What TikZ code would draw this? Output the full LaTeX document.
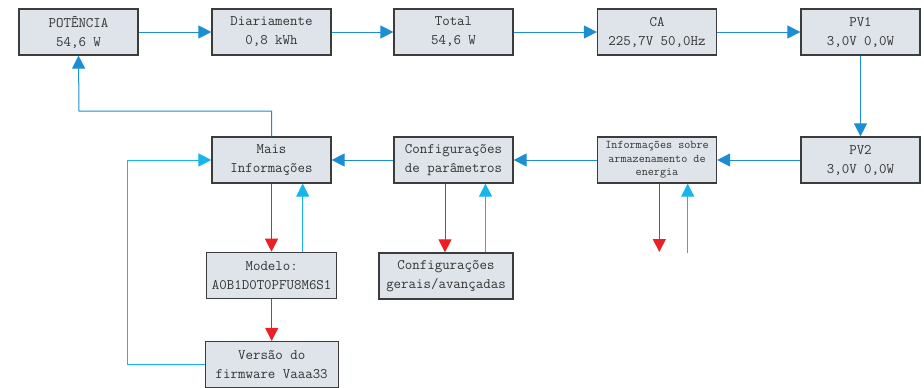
\documentclass[tikz,border=0pt]{standalone}
\usetikzlibrary{arrows.meta}

\definecolor{boxfill}{RGB}{222,228,234}
\definecolor{boxline}{RGB}{60,60,60}
\definecolor{flowblue}{RGB}{28,142,212}
\definecolor{upcyan}{RGB}{20,182,236}
\definecolor{downred}{RGB}{236,30,38}

\tikzset{
  box/.style={draw=boxline, line width=1.2pt, fill=boxfill, text=black!80,
    minimum width=119pt, minimum height=46pt, inner sep=1pt, align=center,
    font=\ttfamily\fontsize{14.5}{19}\selectfont},
  flow/.style={draw=flowblue, line width=1pt, -{Triangle[length=13pt,width=13pt]}},
  upflow/.style={draw=upcyan, line width=1pt, -{Triangle[length=13pt,width=13pt]}},
  downflow/.style={draw=downred, line width=1pt, -{Triangle[length=13pt,width=13pt]}},
}

\begin{document}
\begin{tikzpicture}[x=1pt,y=-1pt]
    \useasboundingbox (0,0) rectangle (924,388);

    % top row
    \node[box] (pot) at (78.5,32) {POTÊNCIA\\54,6 W};
    \node[box] (dia) at (271.5,32) {Diariamente\\0,8 kWh};
    \node[box] (tot) at (453.5,32) {Total\\54,6 W};
    \node[box] (ca)  at (657,32) {CA\\225,7V 50,0Hz};
    \node[box] (pv1) at (860.5,32) {PV1\\3,0V 0,0W};

    % second row
    \node[box] (pv2)  at (860.5,160) {PV2\\3,0V 0,0W};
    \node[box, font=\ttfamily\fontsize{11.8}{13.7}\selectfont] (arm) at (657,160)
      {Informações sobre\\armazenamento de\\energia};
    \node[box] (cfg)  at (453.5,160) {Configurações\\de parâmetros};
    \node[box] (mais) at (271.5,160) {Mais\\Informações};

    % lower boxes
    \node[box, minimum width=130pt] (modelo) at (271.7,275.3) {Modelo:\\A0B1D0T0PFU8M6S1};
    \node[box, minimum width=134pt] (gerais) at (446,276) {Configurações\\gerais/avançadas};
    \node[box, minimum width=133pt] (versao) at (271.7,364.5) {Versão do\\firmware Vaaa33};

    \draw[flow] (pot) -- (dia);
    \draw[flow] (dia) -- (tot);
    \draw[flow] (tot) -- (ca);
    \draw[flow] (ca) -- (pv1);
    \draw[flow] (pv1) -- (pv2);
    \draw[flow] (pv2) -- (arm);
    \draw[flow] (arm) -- (cfg);
    \draw[flow] (cfg) -- (mais);

    \coordinate (back) at (79,111);
    \draw[flow] (mais.north) |- (back) -- (pot.south);

    \coordinate (loop) at (127.7,160);
    \draw[upflow] (versao.west) -| (loop) -- (mais.west);

    \draw[downflow] (mais.south) -- (mais.south |- modelo.north);
    \draw[upflow] ([xshift=31pt]modelo.north) -- ([xshift=31pt]modelo.north |- mais.south);
    \draw[downflow] (modelo.south) -- (versao.north);

    \draw[downflow] ([xshift=-8.5pt]cfg.south) -- ([xshift=-8.5pt]cfg.south |- gerais.north);
    \draw[upflow] ([xshift=32pt]cfg.south |- gerais.north) -- ([xshift=32pt]cfg.south);

    \coordinate (armout) at (659.3,252);
    \coordinate (armin) at (687.7,252.7);
    \draw[downflow] (arm.south -| armout) -- (armout);
    \draw[upflow] (armin) -- (arm.south -| armin);
\end{tikzpicture}
\end{document}
